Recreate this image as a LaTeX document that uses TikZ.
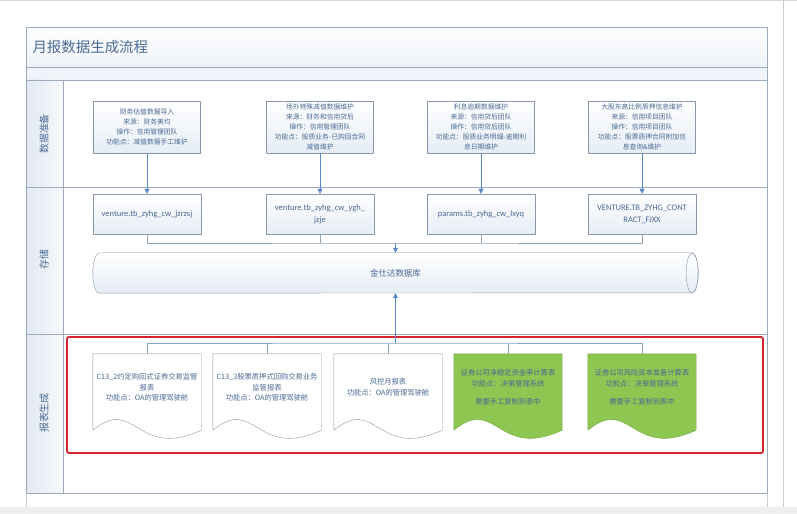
\documentclass[tikz,border=0pt]{standalone}
\usepackage{fontspec}
\setmainfont{Noto Sans CJK SC}
\newfontfamily\latfont{Carlito}
\usetikzlibrary{shapes.geometric,arrows.meta,positioning}

\definecolor{txtblue}{HTML}{4A6A94}
\definecolor{framegray}{HTML}{9AABBD}
\definecolor{boxgray}{HTML}{8898AA}
\definecolor{boxfill}{HTML}{E6EDF6}
\definecolor{lanefill}{HTML}{E2E9F3}
\definecolor{arrowblue}{HTML}{5A8AC6}
\definecolor{linkgray}{HTML}{8EA2B6}
\definecolor{repgreen}{HTML}{8DC651}
\definecolor{repgreenline}{HTML}{78A84A}
\definecolor{hlred}{HTML}{D8232E}
\definecolor{pagegray}{HTML}{EFEFEF}

\begin{document}
\begin{tikzpicture}[x=1bp,y=-1bp,line join=bevel,
  srcbox/.style={draw=boxgray,top color=white,bottom color=boxfill,align=center,
    minimum width=107bp,minimum height=52bp,inner sep=1bp,text=txtblue,
    font=\fontsize{6.8}{9.9}\selectfont},
  tblbox/.style={draw=boxgray,top color=white,bottom color=boxfill,align=center,
    minimum width=108bp,minimum height=40bp,inner sep=1bp,text=txtblue,
    font=\latfont\fontsize{8.5}{12}\selectfont},
  dbnode/.style={minimum width=605bp,minimum height=40bp,inner sep=0pt,text=txtblue,
    font=\fontsize{8.5}{10}\selectfont},
  docnode/.style={minimum width=108bp,minimum height=76bp,inner sep=0pt},
  doctext/.style={align=center,text=txtblue,font=\fontsize{7.3}{10.6}\selectfont},
  lanelabel/.style={rotate=90,text=txtblue,font=\fontsize{10}{12}\selectfont},
  flow/.style={draw=arrowblue,line width=0.8bp,-{Triangle[width=5bp,length=5bp]}},
  link/.style={draw=linkgray,line width=0.8bp},
]
\useasboundingbox (0,0) rectangle (797,514);

% page and lanes
\fill[pagegray] (0,507) rectangle (797,514);
\draw[pagegray!80!gray] (0,0.5) -- (797,0.5);
\draw[pagegray!70!gray] (783,0) -- (783,507);
\draw[pagegray!70!gray] (26,493) -- (26,507) (767,493) -- (767,507);
\fill[top color=white,bottom color=boxfill!70] (26,27) rectangle (767,67);
\fill[boxfill!60] (26,67) rectangle (767,80);
\fill[left color=lanefill,right color=lanefill!30] (26,80) rectangle (63,493);
\draw[framegray] (26,27) rectangle (767,493);
\draw[framegray] (26,67) -- (767,67) (26,80) -- (767,80);
\draw[framegray] (63,80) -- (63,493);
\draw[framegray] (26,187) -- (767,187) (26,334) -- (767,334);

\node[anchor=west,text=txtblue,font=\fontsize{14.5}{16}\selectfont] (title) at (29,47) {月报数据生成流程};
\node[lanelabel] (lprep) at (44,134) {数据准备};
\node[lanelabel] (lstore) at (44,260) {存储};
\node[lanelabel] (lrep) at (44,413) {报表生成};

% Node: sources
\node[srcbox] (p1) at (147,127) {财务估值数据导入\\来源：财务美均\\操作：信用管理团队\\功能点：减值数据手工维护};
\node[srcbox] (p2) at (320,127) {场外特殊减值数据维护\\来源：财务和信用贷后\\操作：信用管理团队\\功能点：股质业务-已购回合同\\减值维护};
\node[srcbox] (p3) at (481,127) {利息逾期数据维护\\来源：信用贷后团队\\操作：信用贷后团队\\功能点：股质业务明细-逾期利\\息日期维护};
\node[srcbox] (p4) at (642,127) {大股东高比例质押信息维护\\来源：信用项目团队\\操作：信用项目团队\\功能点：股票质押合同附加信\\息查询\&维护};

% Node: tables
\node[tblbox] (s1) at (147,214) {venture.tb\_zyhg\_cw\_jzrzsj};
\node[tblbox] (s2) at (320,214) {venture.tb\_zyhg\_cw\_ygh\_\\jzje};
\node[tblbox] (s3) at (481,214) {params.tb\_zyhg\_cw\_lxyq};
\node[tblbox] (s4) at (642,214) {VENTURE.TB\_ZYHG\_CONT\\RACT\_FJXX};

% Node: database
\node[dbnode] (db) at (395.5,273) {};
\draw[draw=boxgray,top color=white,bottom color=boxfill]
  ([xshift=6bp]db.north west) -- ([xshift=-6bp]db.north east)
  arc[start angle=90,end angle=-90,x radius=6bp,y radius=20bp]
  -- ([xshift=6bp]db.south west)
  arc[start angle=270,end angle=90,x radius=6bp,y radius=20bp] -- cycle;
\draw[draw=boxgray] ([xshift=-6bp]db.east) ellipse [x radius=6bp,y radius=20bp];
\node[text=txtblue,font=\fontsize{8.5}{10}\selectfont] (dbtext) at (db.center) {金仕达数据库};

% Node: reports
\node[draw=hlred,line width=1.8bp,rounded corners=2bp,minimum width=696bp,minimum height=116bp] (hl) at (415,395) {};
\foreach \n/\x/\c/\l in {d1/147/white/boxgray,d2/267/white/boxgray,d3/388/white/boxgray,
    d4/508/repgreen/repgreenline,d5/642/repgreen/repgreenline}{
  \node[docnode] (\n) at (\x,392) {};
  \draw[draw=\l,fill=\c] (\n.south west) -- (\n.north west) -- (\n.north east) -- (\n.south east)
    .. controls +(-65,30) and +(43,-35) .. (\n.south west) -- cycle;
}
\node[doctext] (d1t) at ([yshift=4.5bp]d1.center) {C13\_2约定购回式证券交易监管\\报表\\功能点：OA的管理驾驶舱};
\node[doctext] (d2t) at ([yshift=4.5bp]d2.center) {C13\_3股票质押式回购交易业务\\监管报表\\功能点：OA的管理驾驶舱};
\node[doctext] (d3t) at ([yshift=4.5bp]d3.center) {风控月报表\\功能点：OA的管理驾驶舱};
\node[doctext] (d4t) at ([yshift=4.5bp]d4.center) {证券公司净稳定资金率计算表\\功能点：决策管理系统\\[8bp]需要手工复制到表中};
\node[doctext] (d5t) at ([yshift=4.5bp]d5.center) {证券公司风险资本准备计算表\\功能点：决策管理系统\\[8bp]需要手工复制到表中};

% Edge: sources -> tables
\foreach \i in {1,...,4}{
  \draw[flow] (p\i) -- (s\i);
}

% Edge: tables -> database
\coordinate (bus) at (395.5,243);
\draw[link] (s1.south) |- (bus) -| (s4.south);
\draw[link] (s2.south) -- (s2.south |- bus);
\draw[link] (s3.south) -- (s3.south |- bus);
\draw[flow] (bus) -- (db.north);

% Edge: database -> reports
\coordinate (repbus) at (395.5,343);
\draw[link] (d1.north) |- (repbus) -| (d5.north);
\foreach \n in {d2,d3,d4}{
  \draw[link] (\n.north) -- (\n.north |- repbus);
}
\draw[flow] (repbus) -- (db.south);
%
\end{tikzpicture}
\end{document}
